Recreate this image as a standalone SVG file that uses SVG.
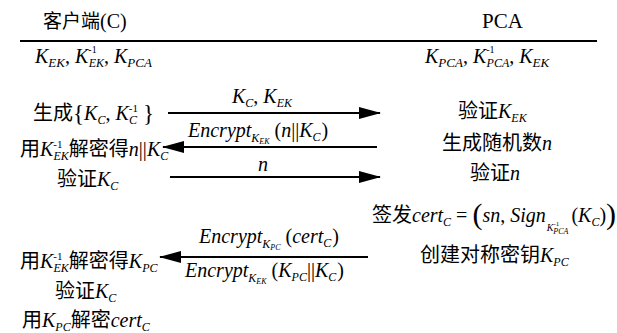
<svg xmlns="http://www.w3.org/2000/svg" width="617" height="333" viewBox="0 0 617 333">
  <style>
    text { font-family: "Liberation Serif", "Times New Roman", serif; font-size: 20px; fill: #000; }
    .cn { font-family: "Noto Sans CJK SC", sans-serif; font-style: normal; }
    .m { font-style: italic; }
    .up { font-style: normal; }
    .sb { font-size: 12px; font-style: italic; }
    .sp { font-size: 11px; font-style: normal; }
    .ss { font-size: 12px; font-style: italic; }
    .sss { font-size: 8px; font-style: italic; }
    .conn { stroke: #000; stroke-width: 2; fill: none; marker-end: url(#head); }
  </style>
  <defs>
    <marker id="head" markerUnits="userSpaceOnUse" markerWidth="22" markerHeight="12" refX="21" refY="6" orient="auto">
      <path d="M0,0 L22,6 L0,12 Z" fill="#000"/>
    </marker>
  </defs>

  <!-- column headers -->
  <g id="client-header">
    <text x="43" y="28"><tspan class="cn" style="font-size:19px">客户端</tspan>(C)</text>
  </g>
  <g id="pca-header">
    <text x="482" y="28" style="font-size:21px">PCA</text>
  </g>
  <line x1="20" y1="41" x2="597" y2="41" stroke="#000" stroke-width="2"/>

  <!-- initial keys -->
  <g id="client-keys">
    <text x="35" y="63" class="m">K<tspan class="sb" style="font-size:13px" dy="4">EK</tspan><tspan class="up" dy="-4">, </tspan>K<tspan class="sp" style="font-size:10px" dy="-10">-1</tspan><tspan class="sb" dx="-8" dy="14">EK</tspan><tspan class="up" dy="-4">, </tspan>K<tspan class="sb" style="font-size:13px" dy="4">PCA</tspan></text>
  </g>
  <g id="pca-keys">
    <text x="425" y="63" class="m">K<tspan class="sb" style="font-size:13px" dy="4">PCA</tspan><tspan class="up" dy="-4">, </tspan>K<tspan class="sp" style="font-size:10px" dy="-10">-1</tspan><tspan class="sb" dx="-8" dy="14">PCA</tspan><tspan class="up" dy="-4">, </tspan>K<tspan class="sb" style="font-size:13px" dy="4">EK</tspan></text>
  </g>

  <!-- client steps -->
  <g id="client-generate">
    <text x="33" y="120"><tspan class="cn">生成</tspan><tspan style="font-size:23px" dy="1">{</tspan><tspan class="m" dy="-1">K</tspan><tspan class="sb" dy="4">C</tspan><tspan dy="-4">, </tspan><tspan class="m">K</tspan><tspan class="sp" dy="-8">-1</tspan><tspan class="sb" dx="-9" dy="12">C</tspan><tspan dx="6" dy="-3" style="font-size:23px">}</tspan></text>
  </g>
  <g id="client-decrypt-n">
    <text x="20" y="156"><tspan class="cn">用</tspan><tspan class="m">K</tspan><tspan class="sp" dy="-8">-1</tspan><tspan class="sb" dx="-9" dy="12">EK</tspan><tspan class="cn" dy="-4">解密得</tspan><tspan class="m">n</tspan><tspan>||</tspan><tspan class="m">K</tspan><tspan class="sb" dy="4">C</tspan></text>
  </g>
  <g id="client-verify-kc">
    <text x="57" y="186"><tspan class="cn">验证</tspan><tspan class="m">K</tspan><tspan class="sb" dy="4">C</tspan></text>
  </g>
  <g id="client-decrypt-kpc">
    <text x="20" y="268"><tspan class="cn">用</tspan><tspan class="m">K</tspan><tspan class="sp" dy="-8">-1</tspan><tspan class="sb" dx="-9" dy="12">EK</tspan><tspan class="cn" dy="-4">解密得</tspan><tspan class="m">K</tspan><tspan class="sb" dy="4">PC</tspan></text>
  </g>
  <g id="client-verify-kc-2">
    <text x="55" y="298"><tspan class="cn">验证</tspan><tspan class="m">K</tspan><tspan class="sb" dy="4">C</tspan></text>
  </g>
  <g id="client-decrypt-cert">
    <text x="22" y="327"><tspan class="cn">用</tspan><tspan class="m">K</tspan><tspan class="sb" dy="4">PC</tspan><tspan class="cn" dy="-4">解密</tspan><tspan class="m">cert</tspan><tspan class="sb" dy="4">C</tspan></text>
  </g>

  <!-- PCA steps -->
  <g id="pca-verify-ek">
    <text x="458" y="118"><tspan class="cn">验证</tspan><tspan class="m">K</tspan><tspan class="sb" dy="4">EK</tspan></text>
  </g>
  <g id="pca-nonce">
    <text x="442" y="150"><tspan class="cn">生成随机数</tspan><tspan class="m">n</tspan></text>
  </g>
  <g id="pca-verify-n">
    <text x="470" y="180"><tspan class="cn">验证</tspan><tspan class="m">n</tspan></text>
  </g>
  <g id="pca-issue-cert">
    <text x="372" y="222"><tspan class="cn">签发</tspan><tspan class="m">cert</tspan><tspan class="sb" dy="4">C</tspan><tspan dy="-4"> = </tspan><tspan style="font-size:30px" dy="2">(</tspan><tspan class="m" dy="-2">sn</tspan><tspan>, </tspan><tspan class="m">Sign</tspan><tspan class="sss" style="font-size:10px" dx="1" dy="9">K</tspan><tspan class="sp" style="font-size:7px" dy="-5">-1</tspan><tspan class="sss" dx="-6" dy="8">PCA</tspan><tspan dx="3" dy="-12">(</tspan><tspan class="m">K</tspan><tspan class="sb" dy="4">C</tspan><tspan dy="-4">)</tspan><tspan style="font-size:30px" dy="2">)</tspan></text>
  </g>
  <g id="pca-session-key">
    <text x="420" y="262"><tspan class="cn">创建对称密钥</tspan><tspan class="m">K</tspan><tspan class="sb" dy="4">PC</tspan></text>
  </g>

  <!-- messages -->
  <g id="connectors">
    <line class="conn" x1="168" y1="113" x2="380" y2="113"/>
    <line class="conn" x1="377" y1="147" x2="163" y2="147"/>
    <line class="conn" x1="170" y1="177" x2="380" y2="177"/>
    <line class="conn" x1="368" y1="257" x2="160" y2="257"/>

    <text x="232" y="103" class="m">K<tspan class="sb" dy="4">C</tspan><tspan class="up" dy="-4">, </tspan>K<tspan class="sb" dy="4">EK</tspan></text>
    <text x="188" y="137" class="m">Encrypt<tspan class="ss" dy="5">K</tspan><tspan class="sss" dy="2">EK</tspan><tspan class="up" dx="5" dy="-7">(</tspan>n<tspan class="up">||</tspan>K<tspan class="sb" dy="4">C</tspan><tspan class="up" dx="1" dy="-4">)</tspan></text>
    <text x="258" y="171" class="m">n</text>
    <text x="199" y="243" class="m">Encrypt<tspan class="ss" dy="5">K</tspan><tspan class="sss" dy="2">PC</tspan><tspan class="up" dx="5" dy="-7">(</tspan>cert<tspan class="sb" dy="4">C</tspan><tspan class="up" dx="1" dy="-4">)</tspan></text>
    <text x="185" y="277" class="m">Encrypt<tspan class="ss" dy="5">K</tspan><tspan class="sss" dy="2">EK</tspan><tspan class="up" dx="5" dy="-7">(</tspan>K<tspan class="sb" dy="4">PC</tspan><tspan class="up" dy="-4">||</tspan>K<tspan class="sb" dy="4">C</tspan><tspan class="up" dx="1" dy="-4">)</tspan></text>
  </g>
</svg>
